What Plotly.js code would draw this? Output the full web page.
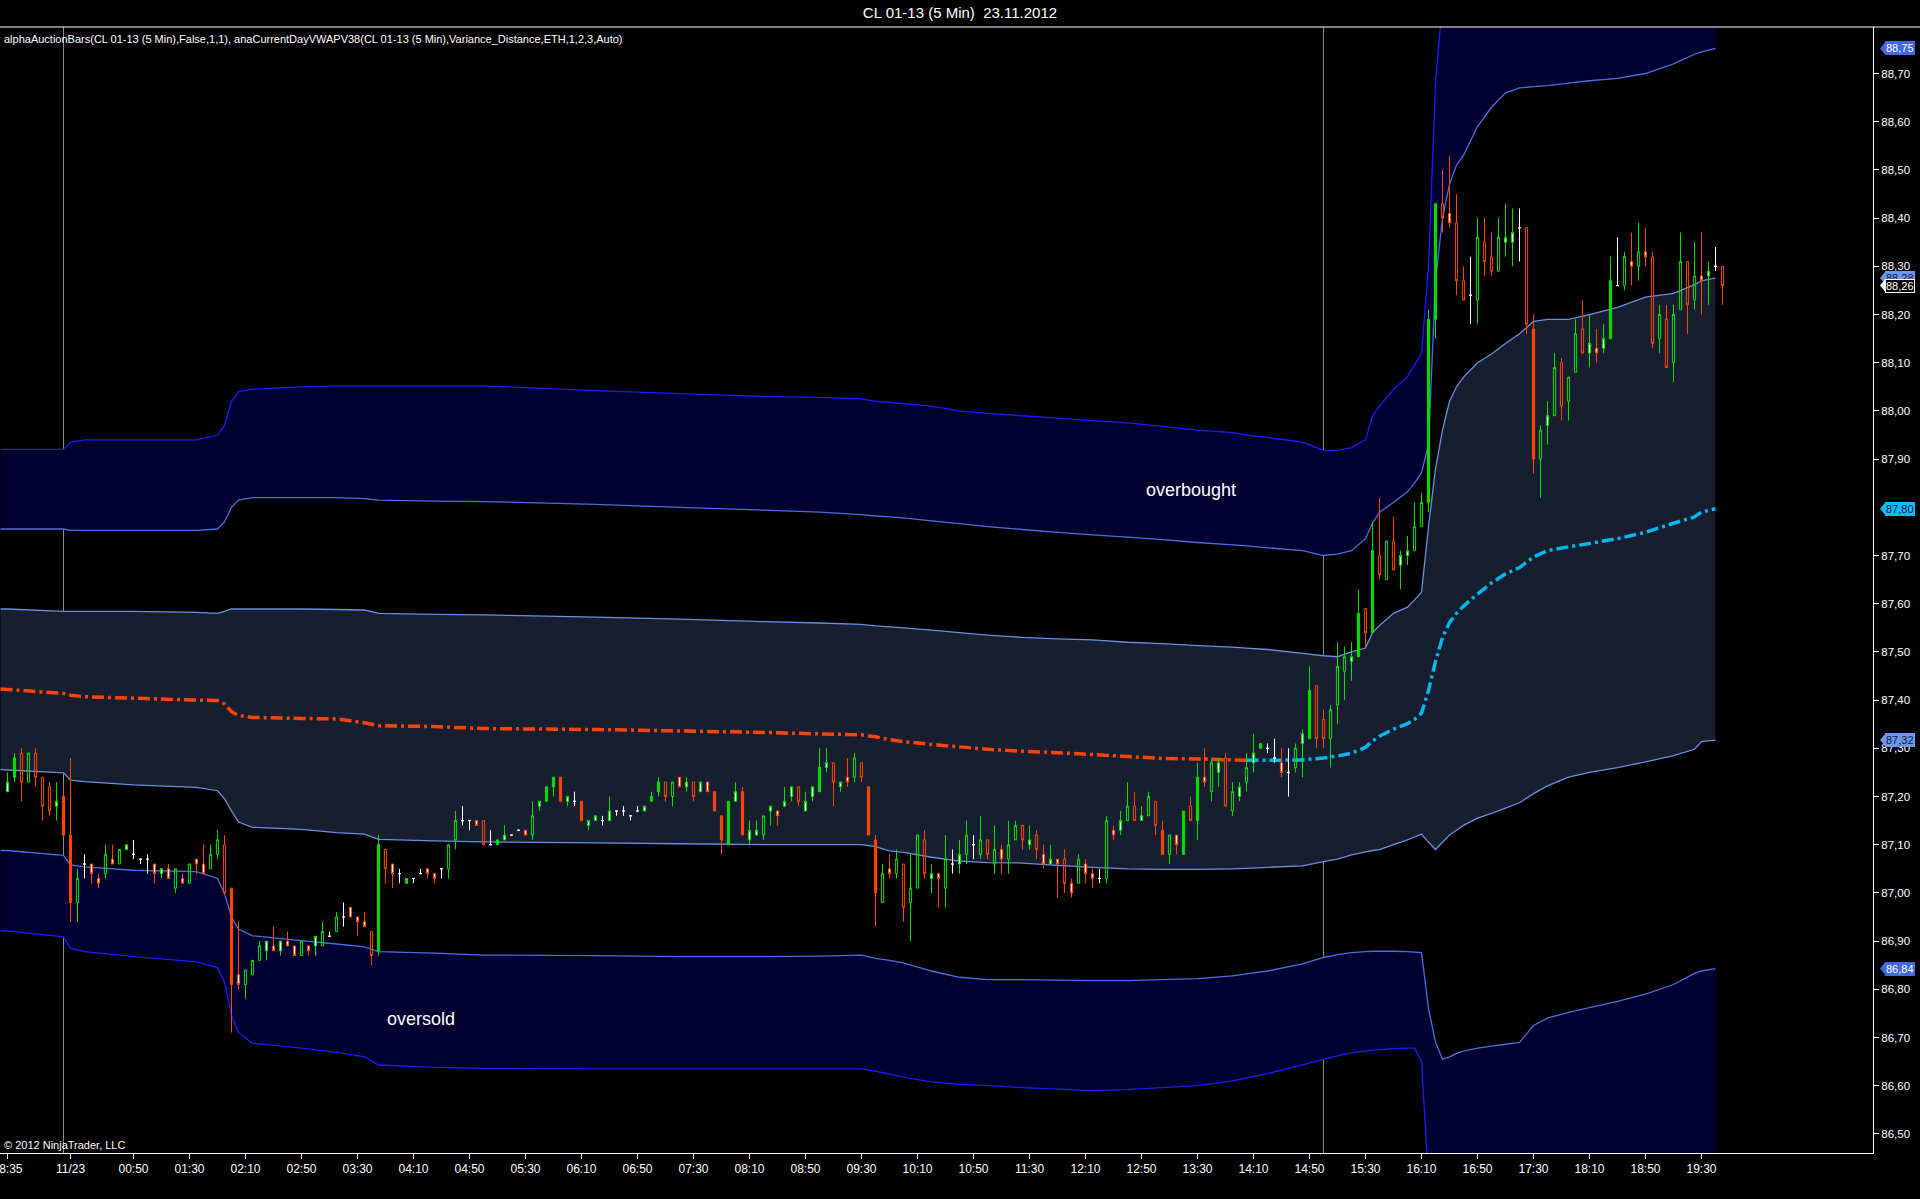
<!DOCTYPE html>
<html><head><meta charset="utf-8">
<script src="https://cdn.plot.ly/plotly-3.0.1.min.js"></script>
<style>html,body{margin:0;padding:0;background:#000;overflow:hidden}#chart{width:1920px;height:1199px}</style>
</head><body><div id="chart"></div>
<script>
// ---------- Candle data (bar index = position in arrays) ----------
const barOpen = [
87.21,87.24,87.29,87.23,87.29,87.24,87.22,87.18,87.20,87.12,
86.98,87.06,87.06,87.03,87.04,87.07,87.06,87.09,87.08,87.07,
87.07,87.06,87.04,87.05,87.01,87.03,87.02,87.07,87.06,87.05,
87.08,87.10,87.01,86.83,86.81,86.83,86.86,86.88,86.89,86.88,
86.90,86.89,86.87,86.89,86.89,86.89,86.91,86.92,86.95,86.97,
86.95,86.94,86.92,86.88,87.09,87.06,87.04,87.02,87.03,87.04,
87.05,87.04,87.05,87.05,87.11,87.15,87.15,87.15,87.15,87.10,
87.10,87.11,87.12,87.13,87.13,87.12,87.18,87.19,87.22,87.24,
87.19,87.19,87.19,87.14,87.15,87.15,87.15,87.17,87.17,87.16,
87.17,87.17,87.19,87.21,87.23,87.20,87.24,87.22,87.23,87.21,
87.23,87.21,87.16,87.10,87.19,87.21,87.11,87.12,87.12,87.17,
87.17,87.18,87.20,87.22,87.17,87.20,87.21,87.26,87.27,87.22,
87.24,87.24,87.27,87.22,87.11,86.98,87.05,87.04,87.06,86.98,
87.01,87.11,87.03,87.04,87.01,87.06,87.06,87.08,87.10,87.08,
87.11,87.06,87.09,87.07,87.11,87.14,87.10,87.12,87.08,87.06,
87.07,87.07,87.02,87.02,87.06,87.04,87.03,87.03,87.13,87.13,
87.15,87.18,87.15,87.16,87.19,87.13,87.08,87.12,87.08,87.18,
87.15,87.24,87.21,87.25,87.28,87.17,87.20,87.23,87.27,87.30,
87.30,87.28,87.27,87.25,87.26,87.31,87.32,87.43,87.36,87.32,
87.39,87.46,87.48,87.49,87.59,87.54,87.70,87.65,87.73,87.68,
87.70,87.71,87.76,87.81,88.19,88.43,88.41,88.39,88.27,88.24,
88.23,88.35,88.32,88.29,88.35,88.35,88.38,88.38,88.17,87.90,
87.97,87.99,88.10,88.02,88.08,88.17,88.12,88.13,88.13,88.15,
88.26,88.26,88.31,88.30,88.33,88.32,88.15,88.19,88.10,88.21,
88.31,88.23,88.28,88.28,88.30,88.30];
const barHigh = [
87.25,87.29,87.30,87.29,87.30,87.24,87.23,87.23,87.20,87.28,
87.05,87.08,87.06,87.04,87.10,87.10,87.09,87.10,87.11,87.07,
87.08,87.06,87.05,87.06,87.05,87.04,87.06,87.07,87.10,87.10,
87.13,87.12,87.01,86.94,86.84,86.86,86.90,86.90,86.93,86.90,
86.92,86.89,86.90,86.89,86.91,86.94,86.92,86.96,86.98,86.97,
86.95,86.96,86.92,87.12,87.09,87.06,87.05,87.03,87.03,87.05,
87.05,87.04,87.05,87.10,87.17,87.18,87.15,87.15,87.15,87.13,
87.11,87.14,87.12,87.13,87.13,87.19,87.19,87.22,87.24,87.24,
87.20,87.21,87.19,87.15,87.16,87.16,87.20,87.17,87.18,87.16,
87.18,87.18,87.21,87.24,87.23,87.23,87.24,87.24,87.23,87.23,
87.23,87.21,87.16,87.19,87.23,87.22,87.15,87.15,87.16,87.18,
87.17,87.22,87.22,87.22,87.21,87.22,87.30,87.30,87.27,87.23,
87.28,87.29,87.27,87.22,87.12,87.06,87.08,87.09,87.06,87.08,
87.12,87.13,87.06,87.04,87.12,87.09,87.11,87.15,87.12,87.16,
87.11,87.14,87.10,87.15,87.15,87.14,87.14,87.13,87.10,87.10,
87.07,87.09,87.03,87.08,87.07,87.05,87.05,87.16,87.14,87.17,
87.23,87.21,87.18,87.21,87.19,87.15,87.12,87.12,87.17,87.20,
87.27,87.30,87.28,87.28,87.29,87.23,87.23,87.29,87.33,87.31,
87.31,87.32,87.30,87.30,87.31,87.34,87.47,87.43,87.38,87.39,
87.52,87.51,87.52,87.63,87.59,87.77,87.82,87.73,87.78,87.71,
87.74,87.81,87.83,88.21,88.43,88.50,88.53,88.45,88.30,88.32,
88.40,88.40,88.37,88.40,88.43,88.42,88.42,88.38,88.20,87.97,
88.02,88.12,88.11,88.07,88.19,88.23,88.20,88.17,88.18,88.32,
88.36,88.33,88.37,88.39,88.38,88.33,88.22,88.22,88.22,88.37,
88.31,88.35,88.37,88.31,88.34,88.30];
const barLow = [
87.21,87.23,87.19,87.23,87.22,87.15,87.16,87.15,87.12,86.94,
86.94,87.03,87.02,87.01,87.03,87.06,87.06,87.09,87.07,87.06,
87.04,87.02,87.03,87.03,87.00,87.02,87.02,87.04,87.04,87.05,
87.07,87.00,86.71,86.80,86.78,86.83,86.86,86.86,86.88,86.87,
86.89,86.87,86.87,86.87,86.87,86.89,86.91,86.92,86.93,86.95,
86.91,86.93,86.85,86.87,87.02,87.01,87.02,87.02,87.02,87.04,
87.03,87.02,87.03,87.03,87.09,87.14,87.13,87.14,87.10,87.10,
87.10,87.11,87.12,87.13,87.12,87.11,87.17,87.19,87.20,87.19,
87.18,87.18,87.15,87.13,87.15,87.14,87.15,87.16,87.16,87.15,
87.17,87.17,87.19,87.20,87.19,87.18,87.22,87.21,87.19,87.21,
87.21,87.17,87.08,87.10,87.19,87.12,87.10,87.12,87.11,87.14,
87.14,87.18,87.19,87.18,87.17,87.19,87.21,87.25,87.18,87.21,
87.22,87.23,87.23,87.12,86.93,86.98,87.03,87.03,86.94,86.90,
87.01,87.03,87.00,86.97,86.97,87.04,87.04,87.06,87.07,87.07,
87.07,87.04,87.04,87.04,87.11,87.09,87.09,87.07,87.05,87.06,
86.99,87.00,86.99,87.02,87.02,87.01,87.02,87.02,87.11,87.12,
87.15,87.15,87.15,87.16,87.12,87.08,87.06,87.08,87.08,87.15,
87.11,87.22,87.19,87.22,87.18,87.16,87.19,87.21,87.25,87.30,
87.29,87.27,87.24,87.20,87.25,87.24,87.32,87.30,87.30,87.26,
87.35,87.40,87.44,87.49,87.51,87.54,87.65,87.65,87.67,87.63,
87.68,87.71,87.76,87.79,88.15,88.37,88.38,88.24,88.23,88.18,
88.18,88.28,88.28,88.29,88.32,88.30,88.31,88.16,87.87,87.82,
87.93,87.99,87.98,87.98,88.08,88.12,88.09,88.10,88.12,88.15,
88.26,88.25,88.26,88.27,88.30,88.13,88.12,88.09,88.06,88.21,
88.16,88.21,88.20,88.22,88.29,88.22];
const barClose = [
87.23,87.28,87.23,87.29,87.24,87.18,87.17,87.19,87.12,86.98,
87.03,87.06,87.04,87.02,87.08,87.06,87.09,87.10,87.08,87.07,
87.07,87.04,87.05,87.03,87.05,87.02,87.06,87.06,87.04,87.08,
87.11,87.00,86.81,86.81,86.84,86.86,86.89,86.90,86.88,86.90,
86.89,86.87,86.90,86.88,86.91,86.92,86.91,86.95,86.95,86.95,
86.94,86.93,86.87,87.10,87.05,87.04,87.04,87.03,87.03,87.04,
87.04,87.03,87.05,87.10,87.15,87.15,87.15,87.14,87.10,87.10,
87.11,87.12,87.12,87.13,87.12,87.16,87.19,87.22,87.24,87.19,
87.20,87.19,87.15,87.15,87.16,87.15,87.17,87.17,87.17,87.16,
87.17,87.18,87.20,87.23,87.20,87.23,87.22,87.23,87.20,87.23,
87.21,87.17,87.11,87.19,87.21,87.12,87.13,87.13,87.16,87.18,
87.16,87.19,87.22,87.19,87.19,87.22,87.26,87.27,87.23,87.23,
87.23,87.28,87.24,87.12,87.00,87.04,87.04,87.07,86.97,87.01,
87.12,87.04,87.04,87.03,87.07,87.06,87.08,87.12,87.10,87.11,
87.08,87.09,87.07,87.10,87.14,87.11,87.11,87.09,87.06,87.07,
87.06,87.02,87.00,87.07,87.04,87.03,87.03,87.15,87.12,87.15,
87.18,87.15,87.16,87.20,87.14,87.08,87.12,87.10,87.17,87.15,
87.24,87.23,87.27,87.27,87.18,87.21,87.22,87.26,87.29,87.31,
87.30,87.28,87.25,87.25,87.30,87.33,87.42,87.32,87.32,87.38,
87.47,87.49,87.49,87.58,87.54,87.71,87.66,87.73,87.67,87.70,
87.71,87.76,87.81,88.19,88.43,88.40,88.39,88.27,88.23,88.24,
88.36,88.31,88.29,88.36,88.36,88.37,88.38,88.18,87.90,87.96,
87.99,88.09,88.01,88.07,88.16,88.12,88.14,88.12,88.15,88.27,
88.26,88.32,88.30,88.33,88.32,88.14,88.20,88.09,88.20,88.31,
88.22,88.28,88.27,88.29,88.30,88.26];
// bar class: GH green hollow, GF green filled, RH red hollow, RF red filled, W neutral
const barKind = [
'GH','GF','RH','GH','RH','RH','RH','GH','RF','RF',
'GH','W','RH','RH','GH','RH','GH','GH','W','W',
'W','RH','GH','RH','GH','RH','GH','RH','RH','GH',
'GH','RH','RF','RH','GH','GH','GH','GH','RH','GH',
'RH','RH','GH','RH','GH','GH','W','GH','W','RH',
'RH','RH','RH','GF','RH','RH','W','GF','W','W',
'RH','RH','W','GH','GH','W','W','RH','RH','W',
'GF','GH','W','W','RH','GH','GH','GF','GF','RF',
'GH','W','RF','GH','GH','W','GH','W','W','W',
'W','GH','GF','GF','RH','GH','RH','GH','RH','GH',
'RH','RF','RF','GF','GH','RF','GH','GH','GH','GH',
'RH','GH','GH','RH','GH','GH','GF','GH','RH','GH',
'RH','GH','RH','RF','RF','GH','RH','GH','RH','GH',
'GH','RH','GH','RH','GH','W','GH','GH','W','GH',
'RH','GH','RH','GH','GH','RH','GH','RH','RH','GH',
'RH','RH','RH','GH','RH','RH','W','GH','RH','GH',
'GH','RH','GH','GH','RH','RF','GH','RH','GF','RH',
'GF','RH','GH','GH','RH','GH','GH','GH','GH','GF',
'W','W','RH','W','GH','GH','GF','RH','RH','GH',
'GH','GH','GH','GF','RH','GF','RH','GH','RH','GH',
'GH','GH','GH','GF','GF','RH','RH','RH','RH','W',
'GH','RH','RH','GH','GH','GH','W','RH','RF','GH',
'GH','GH','RH','GH','GH','RH','GH','RH','GH','GF',
'W','GH','RH','GH','RH','RH','GH','RH','GH','GH',
'RH','GH','RH','GH','W','RH'];

// ---------- VWAP and deviation bands (sampled at bar indices) ----------
const bandIdx = [-1,0,8,9,11,18,27,30,31,32,33,35,42,47,51,53,61,68,84,96,
108,116,122,124,126,128,132,136,140,145,150,155,160,165,170,175,177,180,185,188,
190,192,194,195,196,198,200,201,202,203,204,205,206,207,208,210,212,214,216,218,
220,223,226,230,234,238,241,242,244];
const vwap = [87.423,87.422,87.414,87.410,87.407,87.404,87.400,87.399,87.392,87.376,
87.368,87.364,87.362,87.361,87.353,87.347,87.345,87.341,87.339,87.336,
87.333,87.330,87.328,87.324,87.318,87.314,87.308,87.303,87.298,87.294,
87.291,87.287,87.283,87.279,87.278,87.276,87.275,87.275,87.276,87.280,
87.284,87.290,87.302,87.315,87.325,87.340,87.351,87.360,87.373,87.420,
87.480,87.530,87.561,87.580,87.595,87.620,87.643,87.662,87.675,87.697,
87.710,87.718,87.725,87.735,87.748,87.767,87.780,87.790,87.797];
const upper1 = [87.589,87.589,87.584,87.584,87.584,87.584,87.582,87.580,87.584,87.589,
87.589,87.589,87.589,87.588,87.587,87.580,87.578,87.577,87.572,87.568,
87.563,87.560,87.557,87.554,87.552,87.550,87.545,87.540,87.535,87.530,
87.527,87.525,87.520,87.517,87.513,87.510,87.508,87.505,87.497,87.492,
87.490,87.500,87.508,87.540,87.555,87.580,87.593,87.608,87.624,87.760,
87.880,87.960,88.020,88.050,88.070,88.100,88.118,88.140,88.160,88.186,
88.190,88.190,88.200,88.215,88.236,88.244,88.262,88.270,88.276];
const upper2 = [87.755,87.755,87.755,87.752,87.752,87.752,87.752,87.755,87.770,87.800,
87.815,87.820,87.820,87.820,87.818,87.815,87.813,87.812,87.806,87.800,
87.794,87.790,87.785,87.782,87.780,87.778,87.772,87.766,87.760,87.754,
87.748,87.743,87.738,87.733,87.727,87.722,87.720,87.716,87.710,87.700,
87.703,87.710,87.735,87.767,87.790,87.810,87.832,87.850,87.872,87.930,
88.270,88.400,88.470,88.510,88.530,88.590,88.630,88.660,88.670,88.673,
88.675,88.680,88.685,88.690,88.700,88.720,88.740,88.745,88.752];
const upper3 = [87.920,87.920,87.920,87.935,87.940,87.940,87.940,87.950,87.970,88.020,
88.040,88.045,88.050,88.052,88.052,88.052,88.052,88.052,88.042,88.036,
88.030,88.028,88.025,88.020,88.018,88.015,88.010,88.000,87.995,87.990,
87.985,87.980,87.975,87.968,87.960,87.955,87.950,87.945,87.935,87.918,
87.918,87.924,87.940,87.990,88.010,88.045,88.071,88.095,88.120,88.300,
88.680,88.850,88.950,88.990,89.000,89.040,89.070,89.100,89.110,89.130,
89.140,89.150,89.160,89.170,89.180,89.200,89.210,89.220,89.230];
const lower1 = [87.256,87.255,87.249,87.234,87.231,87.224,87.219,87.212,87.195,87.170,
87.147,87.136,87.132,87.125,87.122,87.111,87.108,87.106,87.104,87.102,
87.100,87.100,87.100,87.096,87.087,87.084,87.074,87.066,87.063,87.062,
87.057,87.053,87.050,87.049,87.049,87.050,87.051,87.053,87.056,87.065,
87.070,87.079,87.085,87.088,87.090,87.100,87.110,87.116,87.122,87.105,
87.090,87.105,87.120,87.130,87.140,87.155,87.165,87.176,87.187,87.206,
87.222,87.240,87.250,87.260,87.272,87.285,87.298,87.314,87.317];
const lower2 = [87.088,87.088,87.078,87.058,87.054,87.047,87.044,87.030,86.999,86.950,
86.925,86.911,86.901,86.894,86.888,86.878,86.875,86.871,86.870,86.868,
86.868,86.869,86.871,86.864,86.860,86.855,86.838,86.825,86.820,86.820,
86.819,86.818,86.818,86.820,86.822,86.828,86.832,86.838,86.853,86.866,
86.872,86.876,86.878,86.879,86.879,86.879,86.878,86.877,86.876,86.760,
86.690,86.655,86.660,86.667,86.672,86.678,86.682,86.686,86.690,86.725,
86.740,86.752,86.762,86.775,86.790,86.810,86.833,86.838,86.843];
const lower3 = [86.921,86.921,86.909,86.885,86.878,86.868,86.857,86.845,86.815,86.745,
86.710,86.688,86.678,86.669,86.660,86.643,86.638,86.636,86.635,86.635,
86.635,86.635,86.635,86.630,86.624,86.618,86.608,86.603,86.600,86.596,
86.593,86.590,86.592,86.596,86.600,86.610,86.616,86.625,86.643,86.655,
86.662,86.668,86.672,86.674,86.675,86.677,86.678,86.678,86.650,86.400,
86.200,86.240,86.190,86.180,86.170,86.180,86.200,86.230,86.250,86.270,
86.280,86.290,86.300,86.310,86.320,86.330,86.345,86.350,86.360];
const vwapSwitchIdx = 177;           // VWAP plotted orange before, cyan after
const sessionLineIdx = [8, 188];     // vertical session markers

// ---------- Axis ticks ----------
const tickIdx = [0,9,18,26,34,42,50,58,66,74,82,90,98,106,114,122,130,138,146,154,162,170,178,186,194,202,210,218,226,234,242];
const tickLabels = ['18:35','11/23','00:50','01:30','02:10','02:50','03:30','04:10','04:50','05:30','06:10','06:50','07:30','08:10','08:50','09:30','10:10','10:50','11:30','12:10','12:50','13:30','14:10','14:50','15:30','16:10','16:50','17:30','18:10','18:50','19:30'];
const priceTicks = [86.5,86.6,86.7,86.8,86.9,87.0,87.1,87.2,87.3,87.4,87.5,87.6,87.7,87.8,87.9,88.0,88.1,88.2,88.3,88.4,88.5,88.6,88.7];

// ---------- Build ----------
const GREEN = '#00e000', RED = '#ff4500', WHITE = '#ffffff';
const NAVY = '#000030', SLATE = '#161e30';
const Y_RANGE = [86.4604, 88.7965];
const HALF_PX = 0.5 / 7;                       // centre 1px wicks on a pixel
const X_RANGE = [-1 - HALF_PX, 266.57 - HALF_PX];
const NARROW = 'Liberation Sans Narrow, Arial Narrow, Liberation Sans, Arial, sans-serif';
const SANS = 'Liberation Sans, Arial, sans-serif';

const fmtPt = (x, y) => `${x},${y}`;
function linePath(vals) {
  return 'M ' + bandIdx.map((x, k) => fmtPt(x, vals[k])).join(' L ');
}
function areaPath(top, bottom) {
  const fwd = bandIdx.map((x, k) => fmtPt(x, top[k]));
  const back = bandIdx.map((x, k) => fmtPt(x, bottom[k])).reverse();
  return 'M ' + fwd.join(' L ') + ' L ' + back.join(' L ') + ' Z';
}
function subPath(xs, ys) {
  return 'M ' + xs.map((x, k) => fmtPt(x, ys[k])).join(' L ');
}

const shapes = [];
const below = (path, line, fillcolor) => ({type:'path', xref:'x', yref:'y', layer:'below', path, line, fillcolor: fillcolor || 'rgba(0,0,0,0)'});
// band fills
shapes.push(below(areaPath(lower2, lower3), {width:0}, NAVY));
shapes.push(below(areaPath(upper1, lower1), {width:0}, SLATE));
shapes.push(below(areaPath(upper3, upper2), {width:0}, NAVY));
// band lines
shapes.push(below(linePath(lower3), {color:'#1a1aff', width:1.3}));
shapes.push(below(linePath(lower2), {color:'#4a6ee0', width:1.3}));
shapes.push(below(linePath(lower1), {color:'#6a8fe0', width:1.3}));
shapes.push(below(linePath(upper1), {color:'#6a8fe0', width:1.3}));
shapes.push(below(linePath(upper2), {color:'#4a6ee0', width:1.3}));
shapes.push(below(linePath(upper3), {color:'#1a1aff', width:1.3}));
// session lines
sessionLineIdx.forEach(i => shapes.push({type:'line', xref:'x', yref:'paper', layer:'below', x0:i, x1:i, y0:0, y1:1, line:{color:'#8a8a8a', width:1}}));
// VWAP split by colour
const vA = bandIdx.map((x, k) => k).filter(k => bandIdx[k] <= vwapSwitchIdx);
const vB = bandIdx.map((x, k) => k).filter(k => bandIdx[k] >= vwapSwitchIdx);
shapes.push(below(subPath(vA.map(k => bandIdx[k]), vA.map(k => vwap[k])), {color:'#ff4500', width:3.5, dash:'12px,4px,3px,4px'}));
shapes.push(below(subPath(vB.map(k => bandIdx[k]), vB.map(k => vwap[k])), {color:'#00b8f0', width:3.5, dash:'12px,4px,3px,4px'}));

// candles by style; short hollow bodies show a white core
const styleOf = i => {
  const k = barKind[i];
  const small = Math.abs(barClose[i] - barOpen[i]) <= 0.0201;
  if (k === 'GH' && small) return 'GS';
  if (k === 'RH' && small) return 'RS';
  return k;
};
const traces = [];
const kindStyle = {
  GH:{c:GREEN, f:'rgba(0,0,0,0)'}, GF:{c:GREEN, f:GREEN}, GS:{c:GREEN, f:WHITE},
  RH:{c:RED, f:'rgba(0,0,0,0)'}, RF:{c:RED, f:RED}, RS:{c:RED, f:WHITE},
  W:{c:WHITE, f:WHITE}
};
Object.keys(kindStyle).forEach(k => {
  const idx = barKind.map((kk, i) => styleOf(i) === k ? i : -1).filter(i => i >= 0);
  if (!idx.length) return;
  const st = kindStyle[k];
  traces.push({type:'candlestick', x: idx, open: idx.map(i=>barOpen[i]), high: idx.map(i=>barHigh[i]),
    low: idx.map(i=>barLow[i]), close: idx.map(i=>barClose[i]),
    increasing:{line:{color:st.c, width:1}, fillcolor:st.f},
    decreasing:{line:{color:st.c, width:1}, fillcolor:st.f},
    whiskerwidth:0, hoverinfo:'skip', showlegend:false});
});

// right-axis value tags
const last = a => a[a.length - 1];
const tags = [
  {v:last(upper2), bg:'#4169e1', fg:'#ffffff', bd:'#4169e1'},
  {v:last(upper1), bg:'#6d95ee', fg:'#101840', bd:'#6d95ee'},
  {v:last(barClose), bg:'#000000', fg:'#ffffff', bd:'#ffffff'},
  {v:last(vwap), bg:'#00bfff', fg:'#0a1040', bd:'#00bfff'},
  {v:last(lower1), bg:'#6d95ee', fg:'#101840', bd:'#6d95ee'},
  {v:last(lower2), bg:'#4169e1', fg:'#ffffff', bd:'#4169e1'}
];
// a tag hides the price label it sits on
const shownTicks = priceTicks.filter(p => !tags.some(t => Math.abs(t.v - p) < 0.006));
const PW = 1873, dyTag = 6 / 482;
shapes.push({type:'line', xref:'paper', yref:'paper', x0:0, x1:1920/PW, y0:1, y1:1, line:{color:'#ffffff', width:1}});
const annotations = [
  {xref:'paper', yref:'paper', x:0, y:1, xanchor:'left', yanchor:'top', xshift:2, yshift:-4, showarrow:false,
   text:'alphaAuctionBars(CL 01-13 (5 Min),False,1,1), anaCurrentDayVWAPV38(CL 01-13 (5 Min),Variance_Distance,ETH,1,2,3,Auto)',
   font:{family:NARROW, size:11, color:'#ffffff'}},
  {xref:'paper', yref:'paper', x:0, y:0, xanchor:'left', yanchor:'bottom', xshift:2, yshift:0, showarrow:false,
   text:'© 2012 NinjaTrader, LLC', font:{family:NARROW, size:11, color:'#ffffff'}},
  {xref:'x', yref:'y', x:169, y:87.836, showarrow:false, text:'overbought', font:{family:SANS, size:18, color:'#ffffff'}},
  {xref:'x', yref:'y', x:59, y:86.738, showarrow:false, text:'oversold', font:{family:SANS, size:18, color:'#ffffff'}}
];
tags.forEach(t => {
  shapes.push({type:'path', xref:'paper', yref:'y', layer:'above',
    path:`M ${1 + 7/PW} ${t.v} L ${1 + 12/PW} ${t.v + dyTag} L ${1 + 12/PW} ${t.v - dyTag} Z`,
    fillcolor:t.bd, line:{width:0}});
  annotations.push({xref:'paper', yref:'y', x:1, y:t.v, xanchor:'left', yanchor:'middle', xshift:12, showarrow:false,
    text:t.v.toFixed(2).replace('.', ','), bgcolor:t.bg, bordercolor:t.bd, borderwidth:1, borderpad:0,
    font:{family:SANS, size:11, color:t.fg}});
});

const layout = {
  width:1920, height:1199, autosize:false,
  margin:{l:0, r:47, t:27, b:46, pad:0},
  paper_bgcolor:'#000000', plot_bgcolor:'#000000',
  separators:',.', showlegend:false, boxmode:'overlay', boxgap:0.55,
  title:{text:'CL 01-13 (5 Min)  23.11.2012', font:{family:SANS, size:15, color:'#ffffff'},
    x:0.5, xref:'container', xanchor:'center', y:1 - 13/1199, yref:'container', yanchor:'middle'},
  xaxis:{range:X_RANGE, tickmode:'array', tickvals:tickIdx, ticktext:tickLabels, ticks:'outside', ticklen:5,
    tickcolor:'#ffffff', showline:true, linecolor:'#ffffff', linewidth:1, showgrid:false, zeroline:false,
    ticklabeloverflow:'allow', tickfont:{family:NARROW, size:12, color:'#ffffff'}, rangeslider:{visible:false}, fixedrange:true},
  yaxis:{side:'right', range:Y_RANGE, tickmode:'array', tickvals:shownTicks, tickformat:'.2f', ticks:'outside', ticklen:5,
    tickcolor:'#ffffff', showline:true, linecolor:'#ffffff', linewidth:1, showgrid:false, zeroline:false,
    tickfont:{family:SANS, size:11.5, color:'#ffffff'}, fixedrange:true},
  shapes, annotations
};
Plotly.newPlot('chart', traces, layout, {staticPlot:true, displayModeBar:false});
</script>
</body></html>
